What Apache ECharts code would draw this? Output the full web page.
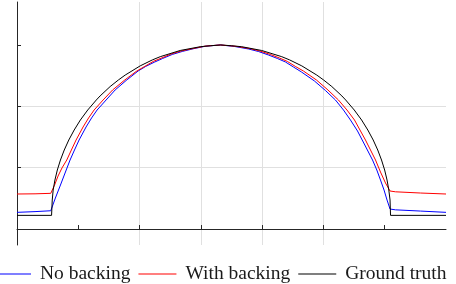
<!DOCTYPE html>
<html>
<head>
<meta charset="utf-8">
<script src="https://cdn.jsdelivr.net/npm/echarts@6/dist/echarts.min.js"></script>
<style>
html,body{margin:0;padding:0;background:#fff;}
#chart{width:456px;height:284px;}
</style>
</head>
<body>
<div id="chart"></div>
<script>
// Series names
const seriesNames = ['No backing', 'With backing', 'Ground truth'];

// No backing (blue)
const xNoBacking = [0, 0.294, 0.551, 0.626, 0.703, 0.784, 0.866, 0.938, 1.013, 1.127, 1.217, 1.307, 1.454, 1.601, 1.781, 1.977, 2.100, 2.239, 2.377, 2.533, 2.696, 2.876, 3.072, 3.317, 3.546, 3.775, 3.938, 4.101, 4.248, 4.379, 4.510, 4.641, 4.853, 5.033, 5.196, 5.327, 5.441, 5.556, 5.658, 5.801, 5.871, 5.931, 5.989, 6.038, 6.087, 6.176, 6.585, 7.0];
const yNoBacking = [0.272, 0.284, 0.298, 0.505, 0.701, 0.913, 1.125, 1.288, 1.451, 1.663, 1.810, 1.940, 2.103, 2.266, 2.421, 2.576, 2.650, 2.718, 2.780, 2.845, 2.894, 2.938, 2.979, 3.0, 2.976, 2.935, 2.894, 2.837, 2.780, 2.723, 2.641, 2.560, 2.413, 2.258, 2.103, 1.940, 1.777, 1.598, 1.402, 1.125, 0.962, 0.799, 0.636, 0.473, 0.326, 0.313, 0.293, 0.272];

// With backing (red)
const xWithBacking = [0, 0.294, 0.551, 0.613, 0.670, 0.734, 0.812, 0.887, 0.964, 1.078, 1.168, 1.258, 1.405, 1.560, 1.748, 1.944, 2.075, 2.222, 2.361, 2.516, 2.680, 2.876, 3.072, 3.317, 3.562, 3.791, 3.962, 4.134, 4.281, 4.412, 4.542, 4.673, 4.886, 5.074, 5.245, 5.384, 5.507, 5.596, 5.686, 5.850, 5.931, 6.013, 6.087, 6.176, 6.585, 7.0];
const yWithBacking = [0.571, 0.574, 0.582, 0.717, 0.864, 0.995, 1.125, 1.288, 1.451, 1.663, 1.810, 1.940, 2.103, 2.266, 2.421, 2.568, 2.645, 2.731, 2.788, 2.853, 2.902, 2.943, 2.981, 3.0, 2.979, 2.943, 2.902, 2.845, 2.788, 2.731, 2.650, 2.576, 2.429, 2.266, 2.103, 1.940, 1.777, 1.614, 1.451, 1.125, 0.929, 0.750, 0.620, 0.607, 0.587, 0.571];

// Ground truth (black)
const xGroundTruth = [0, 0.564, 0.575, 0.590, 0.619, 0.658, 0.709, 0.771, 0.845, 0.933, 1.034, 1.154, 1.294, 1.356, 1.520, 1.654, 1.765, 2.010, 2.208, 2.337, 2.663, 2.990, 3.154, 3.326, 3.503, 3.667, 3.993, 4.320, 4.449, 4.647, 4.892, 5.003, 5.137, 5.301, 5.363, 5.503, 5.623, 5.724, 5.812, 5.886, 5.948, 5.999, 6.038, 6.067, 6.087, 6.095, 7.0];
const yGroundTruth = [0.223, 0.223, 0.473, 0.636, 0.799, 0.962, 1.125, 1.288, 1.451, 1.614, 1.777, 1.940, 2.103, 2.169, 2.322, 2.429, 2.509, 2.659, 2.756, 2.809, 2.910, 2.971, 2.987, 3.0, 2.987, 2.971, 2.910, 2.809, 2.756, 2.659, 2.509, 2.429, 2.322, 2.169, 2.103, 1.940, 1.777, 1.614, 1.451, 1.288, 1.125, 0.962, 0.799, 0.636, 0.473, 0.223, 0.223];

// Tick values (no labels shown)
const xTicks = [1, 2, 3, 4, 5, 6];
const yTicks = [0, 1, 2, 3];

function pairs(xs, ys) { return xs.map((x, i) => [x, ys[i]]); }

const chart = echarts.init(document.getElementById('chart'), null, {renderer: 'canvas'});
function axis(min, max, ticks) {
  return {
    type: 'value', min: min, max: max,
    axisLine: {show: true, lineStyle: {color: '#262626', width: 1}},
    axisTick: {show: true, inside: true, length: 4, customValues: ticks, lineStyle: {color: '#262626', width: 1}},
    axisLabel: {show: false},
    splitLine: {show: true, showMinLine: false, showMaxLine: false, lineStyle: {color: '#e0e0e0', width: 1}}
  };
}
chart.setOption({
  animation: false,
  backgroundColor: '#ffffff',
  grid: {left: 17, right: 10, top: 2, bottom: 39, containLabel: false},
  xAxis: axis(0, 7, xTicks),
  yAxis: axis(-0.26, 3.70, yTicks),
  legend: {
    left: -7, top: 264, padding: 0,
    icon: 'rect', itemWidth: 38, itemHeight: 1.2, itemGap: 8,
    textStyle: {fontFamily: 'Liberation Serif', fontSize: 19.5, color: '#1a1a1a', padding: [0, 0, 0, 4]},
    data: seriesNames
  },
  series: [
    {name: seriesNames[0], type: 'line', data: pairs(xNoBacking, yNoBacking), showSymbol: false, symbol: 'none', lineStyle: {color: '#0000ff', width: 1}, itemStyle: {color: '#0000ff'}, z: 2},
    {name: seriesNames[1], type: 'line', data: pairs(xWithBacking, yWithBacking), showSymbol: false, symbol: 'none', lineStyle: {color: '#ff0000', width: 1}, itemStyle: {color: '#ff0000'}, z: 3},
    {name: seriesNames[2], type: 'line', data: pairs(xGroundTruth, yGroundTruth), showSymbol: false, symbol: 'none', lineStyle: {color: '#000000', width: 1}, itemStyle: {color: '#000000'}, z: 4}
  ]
});
</script>
</body>
</html>
